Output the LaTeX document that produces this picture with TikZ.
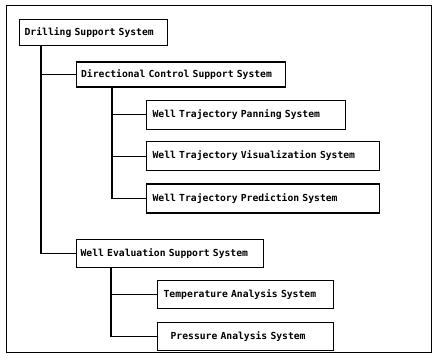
\documentclass[tikz,border=0pt]{standalone}
\usepackage{fontspec}
\setmonofont{DejaVu Sans Mono}
\usetikzlibrary{positioning}
\tikzstyle{sysbox} = [rectangle,
                     draw=black,
                     line width=1.3pt,
                     fill=white,
                     align=left,
                     inner xsep=6pt,
                     inner ysep=0pt,
                     minimum height=29pt,
                     font=\ttfamily\bfseries\fontsize{9.7}{11}\selectfont]
\tikzstyle{link} = [line width=1.1pt]
\tikzstyle{chart} = [x=1pt,
                    y=1pt]

\begin{document}
\begin{tikzpicture}[chart]
    \useasboundingbox (0,0) rectangle (433,-360);
    \draw[line width=0.9pt] (6,-5) rectangle (431,-352);
    \node (dss) [sysbox, anchor=north west, minimum height=26pt, inner xsep=5pt, text width=138pt] at (19,-19) {Drilling Support System};
    \node (dcs) [sysbox, below right=15pt and 57pt of dss.south west, minimum height=25pt, inner xsep=4.5pt, text width=200pt] {Directional Control Support System};
    \node (wtp) [sysbox, below right=12pt and 70pt of dcs.south west, text width=187pt] {Well Trajectory Panning System};
    \node (wtv) [sysbox, below right=11pt and 0pt of wtp.south west, text width=221pt] {Well Trajectory Visualization System};
    \node (wtr) [sysbox, below right=12pt and 0pt of wtv.south west, text width=221pt] {Well Trajectory Prediction System};
    \node (wes) [sysbox, below right=25pt and -70pt of wtr.south west, minimum height=28pt, inner xsep=4pt, text width=179pt] {Well Evaluation Support System};
    \node (tas) [sysbox, below right=12pt and 81pt of wes.south west, minimum height=28pt, text width=164pt] {Temperature Analysis System};
    \node (pas) [sysbox, below right=13pt and 0pt of tas.south west, minimum height=28pt, inner xsep=13pt, text width=150pt] {Pressure Analysis System};
    \coordinate (dssroot) at ([xshift=22pt]dss.south west);
    \coordinate (dcsroot) at ([xshift=36pt]dcs.south west);
    \coordinate (wesroot) at ([xshift=35pt]wes.south west);
    \draw[link] (dssroot) |- (dcs.west);
    \draw[link] (dssroot) |- (wes.west);
    \draw[link] (dcsroot) |- (wtp.west);
    \draw[link] (dcsroot) |- (wtv.west);
    \draw[link] (dcsroot) |- (wtr.west);
    \draw[link] (wesroot) |- (tas.west);
    \draw[link] (wesroot) |- (pas.west);
\end{tikzpicture}
\end{document}
